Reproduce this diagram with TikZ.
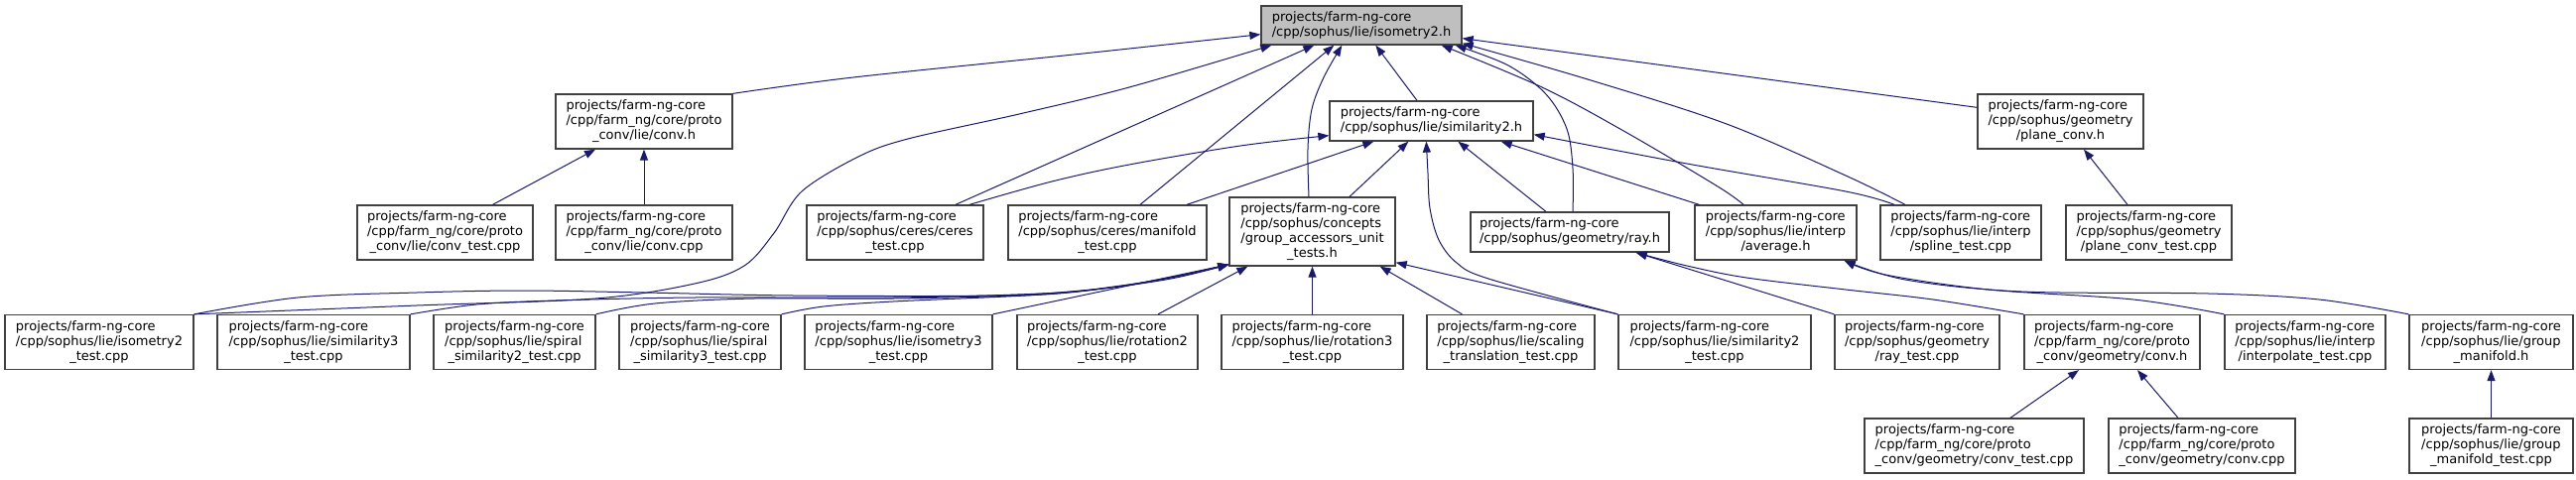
\documentclass[tikz,border=0pt]{standalone}
\usepackage{fontspec}
\setmainfont{DejaVu Sans}
\usetikzlibrary{arrows.meta}
\definecolor{edgec}{HTML}{191970}
\definecolor{bordc}{HTML}{404040}
\definecolor{rootc}{HTML}{BFBFBF}
\newcommand\LblB[2]{\begin{tabular}{@{}l@{}}#1\\\multicolumn{1}{@{}c@{}}{#2}\end{tabular}}
\newcommand\LblC[3]{\begin{tabular}{@{}l@{}}#1\\#2\\\multicolumn{1}{@{}c@{}}{#3}\end{tabular}}
\newcommand\LblD[4]{\begin{tabular}{@{}l@{}}#1\\#2\\#3\\\multicolumn{1}{@{}c@{}}{#4}\end{tabular}}
\begin{document}
\begin{tikzpicture}[x=1pt,y=-1pt,
  nd/.style={draw=bordc,line width=1.3pt,fill=white,inner sep=0pt,font=\fontsize{13}{15}\selectfont},
  edge/.style={draw=edgec,line width=1pt,-{Triangle[length=11pt,width=8pt]}},
  sm/.style={smooth,tension=0.55}]
\useasboundingbox (0,0) rectangle (2596,483);
\def\P{projects/farm-ng-core}
% row 0
\node[nd,fill=rootc,minimum width=202pt,minimum height=39pt] (iso2h) at (1372,25.5) {\LblB{\P}{/cpp/sophus/lie/isometry2.h}};
% row 1
\node[nd,minimum width=178pt,minimum height=55pt] (convh) at (649,122.5) {\LblC{\P}{/cpp/farm\_ng/core/proto}{\_conv/lie/conv.h}};
\node[nd,minimum width=205pt,minimum height=40pt] (sim2h) at (1442.5,122) {\LblB{\P}{/cpp/sophus/lie/similarity2.h}};
\node[nd,minimum width=167pt,minimum height=55pt] (planeh) at (2076.5,122.5) {\LblC{\P}{/cpp/sophus/geometry}{/plane\_conv.h}};
% row 2
\node[nd,minimum width=177pt,minimum height=55pt] (convt) at (448.5,234.5) {\LblC{\P}{/cpp/farm\_ng/core/proto}{\_conv/lie/conv\_test.cpp}};
\node[nd,minimum width=178pt,minimum height=55pt] (convc) at (649,234.5) {\LblC{\P}{/cpp/farm\_ng/core/proto}{\_conv/lie/conv.cpp}};
\node[nd,minimum width=178pt,minimum height=55pt] (cerest) at (902,234.5) {\LblC{\P}{/cpp/sophus/ceres/ceres}{\_test.cpp}};
\node[nd,minimum width=200pt,minimum height=55pt] (manift) at (1116,234.5) {\LblC{\P}{/cpp/sophus/ceres/manifold}{\_test.cpp}};
\node[nd,minimum width=167pt,minimum height=69pt] (gacc) at (1322.5,233.5) {\LblD{\P}{/cpp/sophus/concepts}{/group\_accessors\_unit}{\_tests.h}};
\node[nd,minimum width=200pt,minimum height=40pt] (rayh) at (1582,234) {\LblB{\P}{/cpp/sophus/geometry/ray.h}};
\node[nd,minimum width=163pt,minimum height=55pt] (avgh) at (1789.5,234.5) {\LblC{\P}{/cpp/sophus/lie/interp}{/average.h}};
\node[nd,minimum width=162pt,minimum height=55pt] (splt) at (1976,234.5) {\LblC{\P}{/cpp/sophus/lie/interp}{/spline\_test.cpp}};
\node[nd,minimum width=167pt,minimum height=55pt] (planet) at (2165.5,234.5) {\LblC{\P}{/cpp/sophus/geometry}{/plane\_conv\_test.cpp}};
% row 3
\node[nd,minimum width=190pt,minimum height=55pt] (iso2t) at (100,345) {\LblC{\P}{/cpp/sophus/lie/isometry2}{\_test.cpp}};
\node[nd,minimum width=194pt,minimum height=55pt] (sim3t) at (316,345) {\LblC{\P}{/cpp/sophus/lie/similarity3}{\_test.cpp}};
\node[nd,minimum width=163pt,minimum height=55pt] (sp2t) at (518.5,345) {\LblC{\P}{/cpp/sophus/lie/spiral}{\_similarity2\_test.cpp}};
\node[nd,minimum width=163pt,minimum height=55pt] (sp3t) at (705.5,345) {\LblC{\P}{/cpp/sophus/lie/spiral}{\_similarity3\_test.cpp}};
\node[nd,minimum width=189pt,minimum height=55pt] (iso3t) at (905.5,345) {\LblC{\P}{/cpp/sophus/lie/isometry3}{\_test.cpp}};
\node[nd,minimum width=182pt,minimum height=55pt] (rot2t) at (1116,345) {\LblC{\P}{/cpp/sophus/lie/rotation2}{\_test.cpp}};
\node[nd,minimum width=183pt,minimum height=55pt] (rot3t) at (1322.5,345) {\LblC{\P}{/cpp/sophus/lie/rotation3}{\_test.cpp}};
\node[nd,minimum width=169pt,minimum height=55pt] (scalt) at (1522.5,345) {\LblC{\P}{/cpp/sophus/lie/scaling}{\_translation\_test.cpp}};
\node[nd,minimum width=194pt,minimum height=55pt] (sim2t) at (1728,345) {\LblC{\P}{/cpp/sophus/lie/similarity2}{\_test.cpp}};
\node[nd,minimum width=166pt,minimum height=55pt] (rayt) at (1932,345) {\LblC{\P}{/cpp/sophus/geometry}{/ray\_test.cpp}};
\node[nd,minimum width=177pt,minimum height=55pt] (gconvh) at (2128.5,345) {\LblC{\P}{/cpp/farm\_ng/core/proto}{\_conv/geometry/conv.h}};
\node[nd,minimum width=162pt,minimum height=55pt] (interpt) at (2323,345) {\LblC{\P}{/cpp/sophus/lie/interp}{/interpolate\_test.cpp}};
\node[nd,minimum width=165pt,minimum height=55pt] (gmanh) at (2510.5,345) {\LblC{\P}{/cpp/sophus/lie/group}{\_manifold.h}};
% row 4
\node[nd,minimum width=221pt,minimum height=55pt] (gconvt) at (1989.5,449.5) {\LblC{\P}{/cpp/farm\_ng/core/proto}{\_conv/geometry/conv\_test.cpp}};
\node[nd,minimum width=188pt,minimum height=55pt] (gconvc) at (2219,449.5) {\LblC{\P}{/cpp/farm\_ng/core/proto}{\_conv/geometry/conv.cpp}};
\node[nd,minimum width=165pt,minimum height=55pt] (gmant) at (2510.5,449.5) {\LblC{\P}{/cpp/sophus/lie/group}{\_manifold\_test.cpp}};

% edges into isometry2.h
\draw[edge] plot[sm] coordinates {(convh.north east) (860,78) (1082,55) ([yshift=11pt]iso2h.south west)};
\draw[edge] plot[sm] coordinates {(iso2t.north east) (420,308) (600,301) (700,286) (750,268) (780,235) (808,193) (865,158) (915,140) (1027,115) (1138,88) ([xshift=11pt]iso2h.south west)};
\draw[edge] ([xshift=61pt]cerest.north) -- ([xshift=54pt]iso2h.south west);
\draw[edge] ([xshift=33pt]manift.north) -- ([xshift=74pt]iso2h.south west);
\draw[edge] plot[sm] coordinates {([xshift=-3.5pt]gacc.north) (1318,150) (1322,110) (1334,78) ([xshift=82pt]iso2h.south west)};
\draw[edge] ([xshift=-14.5pt]sim2h.north) -- ([xshift=116pt]iso2h.south west);
\draw[edge] plot[sm] coordinates {([xshift=3pt]rayh.north) (1585,170) (1579,130) (1558,95) (1520,66) ([xshift=-7pt]iso2h.south east)};
\draw[edge] plot[sm] coordinates {([xshift=-32.5pt]avgh.north) (1731,188) (1638,133) (1554,88) ([xshift=-21pt]iso2h.south east)};
\draw[edge] plot[sm] coordinates {([xshift=-56pt]splt.north) (1860,177) (1740,125) (1600,80) ([yshift=2pt]iso2h.south east)};
\draw[edge] ([yshift=-14pt]planeh.north west) -- ([yshift=7pt]iso2h.south east);

% edges into similarity2.h
\draw[edge] plot[sm] coordinates {([xshift=75pt]cerest.north) (1060,183) (1138,166) (1250,147) ([yshift=6pt]sim2h.south west)};
\draw[edge] ([xshift=80pt]manift.north) -- ([xshift=45pt]sim2h.south west);
\draw[edge] ([xshift=37.5pt]gacc.north) -- ([xshift=80pt]sim2h.south west);
\draw[edge] plot[sm] coordinates {(sim2t.north west) (1500,281) (1468,265) (1450,242) (1441,210) (1439,175) ([xshift=98pt]sim2h.south west)};
\draw[edge] ([xshift=-24pt]rayh.north) -- ([xshift=130pt]sim2h.south west);
\draw[edge] ([xshift=5pt]avgh.north west) -- ([xshift=-33pt]sim2h.south east);
\draw[edge] plot[sm] coordinates {([xshift=-67pt]splt.north) (1860,193) (1700,165) ([yshift=7pt]sim2h.south east)};

% conv.h
\draw[edge] ([xshift=48pt]convt.north) -- ([xshift=-49pt]convh.south);
\draw[edge] (convc.north) -- (convh.south);
% plane_conv.h
\draw[edge] ([xshift=-21.5pt]planet.north) -- ([xshift=23.5pt]planeh.south);

% into group_accessors
\draw[edge] plot[sm] coordinates {(iso2t.north east) (300,300) (420,295) (527,293) (650,295) (800,298) (1000,298) (1100,292) (1180,281) ([yshift=2pt]gacc.south west)};
\draw[edge] plot[sm] coordinates {(sim3t.north east) (480,307) (560,303) (700,300) (900,300) (1050,296) (1120,290) (1185,279) ([yshift=2pt]gacc.south west)};
\draw[edge] plot[sm] coordinates {(sp2t.north east) (660,306) (760,301) (900,301) (1050,297) (1125,289) (1188,278) ([yshift=2pt]gacc.south west)};
\draw[edge] plot[sm] coordinates {(sp3t.north east) (830,309) (900,304) (1050,297) (1130,288) (1190,278) ([yshift=2pt]gacc.south west)};
\draw[edge] (iso3t.north east) -- ([yshift=2pt]gacc.south west);
\draw[edge] ([xshift=51pt]rot2t.north) -- ([xshift=19pt]gacc.south west);
\draw[edge] (rot3t.north) -- (gacc.south);
\draw[edge] ([xshift=-49pt]scalt.north) -- ([xshift=-16pt]gacc.south east);
\draw[edge] (sim2t.north west) -- ([yshift=4pt]gacc.south east);

% into ray.h
\draw[edge] (rayt.north west) -- ([xshift=-34pt]rayh.south east);
\draw[edge] plot[sm] coordinates {(gconvh.north west) (1948,302) (1860,292) (1760,280) (1700,268) ([xshift=-34pt]rayh.south east)};
% into average.h
\draw[edge] plot[sm] coordinates {(interpt.north west) (2150,302) (2004,292) (1900,277) ([xshift=-13pt]avgh.south east)};
\draw[edge] plot[sm] coordinates {(gmanh.north west) (2337,302) (2226,296) (2037,294) (1920,282) ([xshift=-13pt]avgh.south east)};
% into geometry/conv.h
\draw[edge] ([xshift=36.5pt]gconvt.north) -- ([xshift=-33.5pt]gconvh.south);
\draw[edge] ([xshift=-24pt]gconvc.north) -- ([xshift=25.5pt]gconvh.south);
% into group_manifold.h
\draw[edge] (gmant.north) -- (gmanh.south);
\end{tikzpicture}
\end{document}
